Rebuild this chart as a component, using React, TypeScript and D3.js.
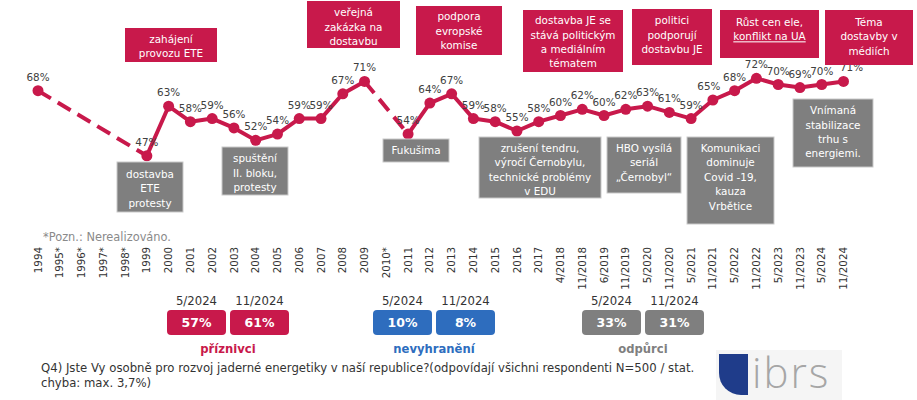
import React from "react";
import * as d3 from "d3";

// ---------- data ----------
const categories = [
  "1994", "1995*", "1996*", "1997*", "1998*", "1999", "2000", "2001", "2002", "2003",
  "2004", "2005", "2006", "2007", "2008", "2009", "2010*", "2011", "2012", "2013",
  "2014", "2015", "2016", "2017", "4/2018", "11/2018", "6/2019", "11/2019", "5/2020",
  "11/2020", "5/2021", "11/2021", "5/2022", "11/2022", "5/2023", "11/2023", "5/2024", "11/2024",
];
const supportValues: (number | null)[] = [
  68, null, null, null, null, 47, 63, 58, 59, 56,
  52, 54, 59, 59, 67, 71, null, 54, 64, 67,
  59, 58, 55, 58, 60, 62, 60, 62, 63,
  61, 59, 65, 68, 72, 70, 69, 70, 71,
];
const noteText = "*Pozn.: Nerealizováno.";

const topEvents = [
  ["zahájení", "provozu ETE"],
  ["veřejná", "zakázka na", "dostavbu"],
  ["podpora", "evropské", "komise"],
  ["dostavba JE se", "stává politickým", "a mediálním", "tématem"],
  ["politici", "podporují", "dostavbu JE"],
  ["Růst cen ele,", "konflikt na UA"],
  ["Téma", "dostavby v", "médiích"],
];
const bottomEvents = [
  ["dostavba", "ETE", "protesty"],
  ["spuštění", "II. bloku,", "protesty"],
  ["Fukušima"],
  ["zrušení tendru,", "výročí Černobylu,", "technické problémy", "v EDU"],
  ["HBO vysílá", "seriál", "„Černobyl“"],
  ["Komunikaci", "dominuje", "Covid -19,", "kauza", "Vrbětice"],
  ["Vnímaná", "stabilizace", "trhu s", "energiemi."],
];

const summaryGroups = ["příznivci", "nevyhranění", "odpůrci"];
const summaryPeriods = ["5/2024", "11/2024"];
const summaryFavour = [57, 61];
const summaryUndecided = [10, 8];
const summaryAgainst = [33, 31];

const footLine1 =
  "Q4) Jste Vy osobně pro rozvoj jaderné energetiky v naší republice?(odpovídají všichni respondenti N=500 / stat.";
const footLine2 = "chyba: max. 3,7%)";
const logoText = "ibrs";

// ---------- layout / style ----------
const W = 917;
const H = 400;
const RED = "#C8194B";
const GREY = "#7F7F7F";
const BLUE = "#2E6DBE";
const FONT = "'DejaVu Sans', Verdana, sans-serif";

// box rect [x, y, w, h] and first line centre y
const topLayout = [
  { r: [125, 28, 92, 34], y0: 39 },
  { r: [307, 1, 93, 47], y0: 12.5 },
  { r: [416, 6, 86, 49], y0: 16.5 },
  { r: [523, 10, 100, 62], y0: 20.5 },
  { r: [632, 9, 80, 56], y0: 20.5 },
  { r: [720, 10, 99, 48], y0: 22.3 },
  { r: [825, 10, 88, 55], y0: 22.3 },
];
const bottomLayout = [
  { r: [117, 162, 66, 50], y0: 174.3 },
  { r: [222, 147, 66, 48], y0: 158.5 },
  { r: [383, 139, 66, 23], y0: 150.7 },
  { r: [479, 137, 122, 61], y0: 148.3 },
  { r: [607, 137, 74, 56], y0: 148.3 },
  { r: [687, 137, 87, 87], y0: 148.3 },
  { r: [793, 99, 80, 68], y0: 110.5 },
];
const LH = 14.4;
const labelDx: Record<string, number> = { "11/2024": 8, "11/2021": -4 };

export default function App() {
  const x = d3.scalePoint<string>().domain(categories).range([38, 843.5]).padding(0);
  const y = d3.scaleLinear().domain([40, 75]).range([177.5, 69]);

  const pts = categories
    .map((c, i) => ({ c, v: supportValues[i], i }))
    .filter((d) => d.v !== null) as { c: string; v: number; i: number }[];

  const solid = d3
    .line<{ c: string; v: number | null }>()
    .defined((d) => d.v !== null)
    .x((d) => x(d.c)!)
    .y((d) => y(d.v as number));
  const solidPath = solid(categories.map((c, i) => ({ c, v: supportValues[i] })));

  // dashed connections across missing years
  const gaps: { a: { c: string; v: number }; b: { c: string; v: number } }[] = [];
  for (let k = 1; k < pts.length; k++) {
    if (pts[k].i - pts[k - 1].i > 1) gaps.push({ a: pts[k - 1], b: pts[k] });
  }
  const seg = d3
    .line<{ c: string; v: number }>()
    .x((d) => x(d.c)!)
    .y((d) => y(d.v));

  const groupVals = [summaryFavour, summaryUndecided, summaryAgainst];
  const groupColors = [RED, BLUE, GREY];
  const groupX = [167, 373, 582];
  const bw = 59;
  const bgap = 4;

  return (
    <svg width={W} height={H} style={{ position: "absolute", left: 0, top: 0, background: "#fff" }} fontFamily={FONT}>
      {/* line */}
      {gaps.map((g, k) => (
        <path key={"g" + k} d={seg([g.a, g.b]) || ""} fill="none" stroke={RED} strokeWidth={4} strokeDasharray="15 8" />
      ))}
      <path d={solidPath || ""} fill="none" stroke={RED} strokeWidth={4} strokeLinejoin="round" />
      {pts.map((d) => (
        <circle key={d.c} cx={x(d.c)} cy={y(d.v)} r={5.5} fill={RED} />
      ))}
      {pts.map((d) => (
        <text
          key={"l" + d.c}
          x={x(d.c)! + (labelDx[d.c] || 0)}
          y={y(d.v) - 10}
          textAnchor="middle"
          fontSize={10.4}
          fill="#404040"
        >
          {d.v}%
        </text>
      ))}

      {/* top event boxes */}
      {topEvents.map((lines, k) => {
        const L = topLayout[k];
        const [bx, by, bwid, bh] = L.r;
        return (
          <g key={"t" + k}>
            <rect x={bx} y={by} width={bwid} height={bh} fill={RED} />
            {lines.map((s, j) => (
              <text
                key={j}
                x={bx + bwid / 2}
                y={L.y0 + j * LH}
                dy="0.35em"
                textAnchor="middle"
                fontSize={10.4}
                fill="#fff"
                textDecoration={k === 5 && j === 1 ? "underline" : undefined}
              >
                {s}
              </text>
            ))}
          </g>
        );
      })}

      {/* bottom event boxes */}
      {bottomEvents.map((lines, k) => {
        const L = bottomLayout[k];
        const [bx, by, bwid, bh] = L.r;
        return (
          <g key={"b" + k}>
            <rect x={bx} y={by} width={bwid} height={bh} fill={GREY} stroke="#c9c9c9" strokeWidth={1} />
            {lines.map((s, j) => (
              <text
                key={j}
                x={bx + bwid / 2}
                y={L.y0 + j * LH}
                dy="0.35em"
                textAnchor="middle"
                fontSize={10.4}
                fill="#fff"
              >
                {s}
              </text>
            ))}
          </g>
        );
      })}

      {/* note */}
      <text x={43} y={237} dy="0.35em" fontSize={11.4} fill="#8a8a8a">
        {noteText}
      </text>

      {/* x axis labels */}
      {categories.map((c) => (
        <text
          key={"x" + c}
          transform={`translate(${x(c)},247) rotate(-90)`}
          dy="0.35em"
          textAnchor="end"
          fontSize={10.3}
          fill="#333"
        >
          {c}
        </text>
      ))}

      {/* summary */}
      {summaryGroups.map((g, gi) => (
        <g key={"s" + g}>
          {summaryPeriods.map((p, pi) => {
            const bx = groupX[gi] + pi * (bw + bgap);
            return (
              <g key={p}>
                <text x={bx + bw / 2} y={301} dy="0.35em" textAnchor="middle" fontSize={11.7} fill="#333">
                  {p}
                </text>
                <rect x={bx} y={310} width={bw} height={25} rx={4} fill={groupColors[gi]} />
                <text
                  x={bx + bw / 2}
                  y={322.5}
                  dy="0.36em"
                  textAnchor="middle"
                  fontSize={12.5}
                  fontWeight="bold"
                  fill="#fff"
                >
                  {groupVals[gi][pi]}%
                </text>
              </g>
            );
          })}
          <text
            x={groupX[gi] + bw + bgap / 2}
            y={349}
            dy="0.35em"
            textAnchor="middle"
            fontSize={11.6}
            fontWeight="bold"
            fill={groupColors[gi]}
          >
            {g}
          </text>
        </g>
      ))}

      {/* footnote */}
      <text x={41} y={368} dy="0.35em" fontSize={11.7} fill="#333">
        {footLine1}
      </text>
      <text x={41} y={383} dy="0.35em" fontSize={11.7} fill="#333">
        {footLine2}
      </text>

      {/* logo */}
      <rect x={716} y={350} width={126} height={50} fill="#f5f5f5" />
      <path d="M719,354 H748 V395 H741 A22,22 0 0 1 719,373 Z" fill="#1F3C8A" />
      <text
        x={752}
        y={388}
        fontSize={42}
        letterSpacing={2}
        fontFamily="'Open Sans', 'Lato', sans-serif"
        fontWeight={300}
        fill="#a6a6a6"
      >
        {logoText}
      </text>
    </svg>
  );
}
